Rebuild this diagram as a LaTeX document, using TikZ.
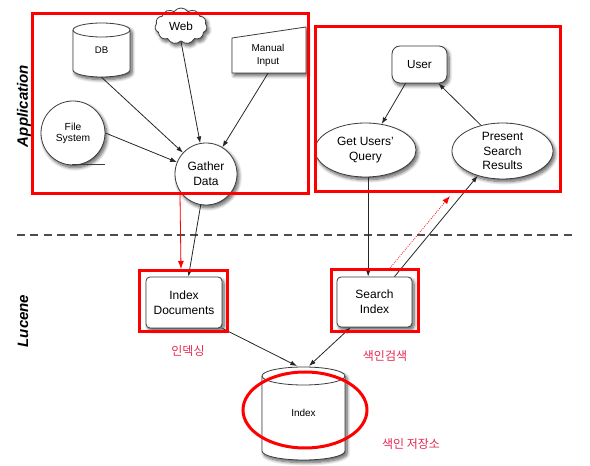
\documentclass[tikz,border=0pt]{standalone}
\usepackage{fontspec}
\setmainfont{Liberation Sans}
\newfontfamily\krfont{Noto Sans CJK KR}
\usetikzlibrary{shapes.geometric,shapes.symbols,arrows.meta,shadows.blur}
\definecolor{krcol}{RGB}{232,40,80}
\definecolor{edge}{RGB}{60,60,60}
\newcommand\myfs[2]{\fontsize{#1}{#2}\selectfont}
\tikzset{
  nd/.style={draw=edge, line width=0.6pt, fill=white, align=center,
    blur shadow={shadow xshift=1.5pt, shadow yshift=-2pt, shadow blur steps=8, shadow blur radius=2.5pt, shadow opacity=65}},
  redbox/.style={draw=red, line width=2.25pt},
  arr/.style={-{Latex[length=5pt,width=3.6pt]}, line width=0.6pt, draw=black!85},
  arrboth/.style={{Latex[length=5pt,width=3.6pt]}-{Latex[length=5pt,width=3.6pt]}, line width=0.6pt, draw=black!85},
  redarr/.style={-{Latex[length=6pt,width=4.5pt]}, line width=0.6pt, draw=red, fill=red},
  reddot/.style={-{Latex[length=6pt,width=4.5pt]}, line width=0.6pt, draw=red, densely dotted},
  dashline/.style={draw=black!70, line width=0.9pt, dash pattern=on 6pt off 4pt},
  kr/.style={font=\krfont\myfs{9}{11}, text=krcol},
  side/.style={rotate=90, font=\bfseries\itshape\myfs{11.3}{13}}
}
\begin{document}
\begin{tikzpicture}[x=0.75pt,y=0.75pt]
\useasboundingbox (0,0) rectangle (590,-466);

% side labels
\node[side] (app) at (24,-106) {Application};
\node[side] (luc) at (23,-321) {Lucene};

% dashed separator
\draw[dashline] (17,-235) -- (572,-235);

% DB cylinder
\path[nd] (73,-30) -- (73,-70) arc[start angle=180,end angle=360,x radius=28.5,y radius=7] -- (130,-30) arc[start angle=0,end angle=180,x radius=28.5,y radius=7] -- cycle;
\draw[edge, line width=0.6pt] (73,-30) arc[start angle=180,end angle=360,x radius=28.5,y radius=7];
\node[minimum width=42.75pt, minimum height=40.5pt, inner sep=0, font=\myfs{7.2}{8.5}] (db) at (101.5,-50) {DB};

% Web cloud
\node[nd, cloud, cloud puffs=11, cloud puff arc=110, aspect=1.5, minimum width=39pt, minimum height=27pt, inner sep=0, font=\myfs{8.8}{10}] (web) at (181,-26) {Web};

% Manual input
\path[nd] (232,-38) -- (306,-27) -- (306,-73) -- (232,-73) -- cycle;
\node[minimum width=55pt, minimum height=27pt, inner sep=0, align=center, font=\myfs{7.5}{9.8}] (manual) at (268,-55) {Manual\\Input};

% File system
\node[nd, circle, minimum size=48pt, inner sep=0, font=\myfs{7.7}{8.3}] (fs) at (73,-133) {File\\System};
\draw[edge, line width=0.5pt] (72,-164) -- (105,-164);

% Gather data
\node[nd, circle, minimum size=46.5pt, inner sep=0, font=\myfs{9}{11.2}] (gather) at (206,-174) {Gather\\Data};

% User / query / present
\node[nd, rectangle, rounded corners=6pt, minimum width=41.25pt, minimum height=27.75pt, font=\myfs{8.8}{10}] (user) at (419.5,-64.5) {User};
\node[nd, ellipse, minimum width=75.75pt, minimum height=40.5pt, inner sep=0, font=\myfs{9}{11}] (query) at (365.5,-150) {Get Users'\\Query};
\node[nd, ellipse, minimum width=75.75pt, minimum height=42pt, inner sep=0, font=\myfs{9}{10.7}] (present) at (502.5,-151) {Present\\Search\\Results};

% Lucene boxes
\node[nd, rectangle, rounded corners=3pt, minimum width=57pt, minimum height=38.25pt, font=\myfs{9}{11}] (idoc) at (184,-302.5) {Index\\Documents};
\node[nd, rectangle, rounded corners=3pt, minimum width=56.25pt, minimum height=37.5pt, font=\myfs{9}{11}] (sidx) at (374.5,-302) {Search\\Index};

% Index cylinder
\path[nd] (262,-376) -- (262,-451) arc[start angle=180,end angle=360,x radius=41.5,y radius=9] -- (345,-376) arc[start angle=0,end angle=180,x radius=41.5,y radius=9] -- cycle;
\draw[edge, line width=0.6pt] (262,-376) arc[start angle=180,end angle=360,x radius=41.5,y radius=9];
\node[minimum width=62pt, minimum height=66pt, inner sep=0, font=\myfs{7.5}{9}] (index) at (303.5,-413) {Index};
\coordinate (itop1) at (297,-366);
\coordinate (itop2) at (309,-366);

% arrows
\draw[arr] (db.south) -- (gather);
\draw[arr] (web.south) -- (gather);
\draw[arr] (manual.south) -- (gather);
\draw[arr] (fs.east) -- (gather);
\draw[arr] (gather) -- (idoc);
\draw[arr] ([xshift=2pt]query.south) -- ([xshift=2pt]query.south |- sidx.north);
\draw[arr] ([xshift=15pt]sidx.north) -- (present.225);
\draw[arr] ([xshift=-10.5pt]user.south) -- (query.58);
\draw[arr] (present.130) -- ([xshift=-6.75pt]user.south east);
\draw[arr] (idoc.south east) -- (itop1);
\draw[arrboth] ([xshift=10.5pt]sidx.south west) -- (itop2);

% red annotation arrows
\coordinate (r1s) at (180,-195);
\coordinate (r1e) at (181,-269);
\draw[redarr] (r1s) -- (r1e);
\coordinate (r2s) at (390,-268);
\coordinate (r2e) at (450,-196);
\draw[reddot] (r2s) -- (r2e);

% red boxes
\draw[redbox] (32,-14) rectangle (308,-194);
\draw[redbox] (315,-27) rectangle (560,-192);
\draw[redbox] (139,-271) rectangle (227,-332);
\draw[redbox] (331,-270) rectangle (418,-332);
\draw[redbox] (305,-410) ellipse [x radius=62, y radius=38];

% Korean labels
\node[kr] (k1) at (188,-351.5) {인덱싱};
\node[kr] (k2) at (385,-356) {색인검색};
\node[kr] (k3) at (411,-444) {색인 저장소};
\end{tikzpicture}
\end{document}
